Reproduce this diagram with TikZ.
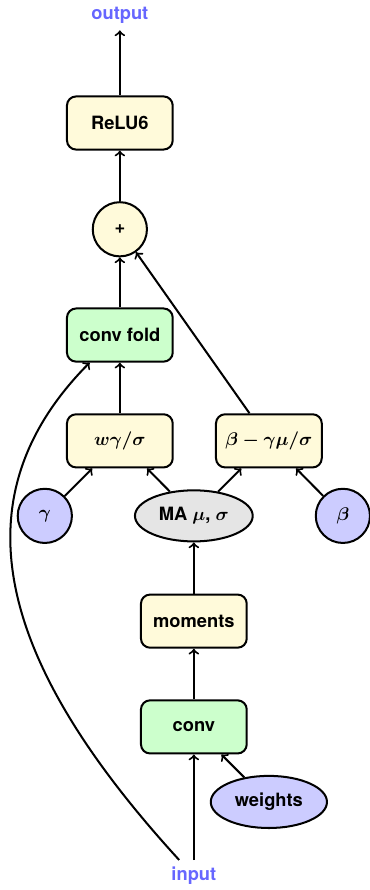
\documentclass[tikz,border=0pt]{standalone}
\usepackage{fontspec}
\setsansfont{TeX Gyre Heros}
\usepackage{bm}
\usetikzlibrary{arrows, shapes.geometric, positioning}

\definecolor{opyellow}{RGB}{255,250,218}
\definecolor{opgreen}{RGB}{204,255,204}
\definecolor{parblue}{RGB}{204,204,255}

\begin{document}
\begin{tikzpicture}[
	line width=1.1pt,
	block/.style = {draw, rectangle, rounded corners=5pt, fill=opyellow, minimum width=2.03cm, minimum height=1.02cm, align=center, font=\sffamily\bfseries\boldmath},
	convblock/.style = {block, fill=opgreen},
	addop/.style = {draw, circle, fill=opyellow, minimum size=1.04cm, font=\sffamily\bfseries},
	param/.style = {draw, circle, fill=parblue, minimum size=1.04cm, font=\boldmath},
	stat/.style = {draw, ellipse, fill=gray!20, minimum width=2.26cm, minimum height=0.98cm, font=\sffamily\bfseries\boldmath},
	io/.style = {text=blue!60, font=\sffamily\bfseries}
]
	\useasboundingbox (0,0) rectangle (7.10,-17.08);

	% main column
	\node[block] (relu) at (2.30,-2.36) {ReLU6};
	\node[io, yshift=2.07cm] (output) at (relu) {output};
	\node[addop, yshift=-2.04cm] (plus) at (relu) {+};
	\node[convblock, yshift=-2.03cm] (convfold) at (plus) {conv fold};
	\node[block, yshift=-2.03cm] (wgs) at (convfold) {$w\gamma/\sigma$};
	\node[block, xshift=2.86cm] (bgms) at (wgs) {$\beta-\gamma\mu/\sigma$};

	% statistics and parameters
	\node[stat, xshift=1.42cm, yshift=-1.44cm] (ma) at (wgs) {MA $\mu$, $\sigma$};
	\node[param, xshift=-1.44cm, yshift=-1.44cm] (gamma) at (wgs) {$\gamma$};
	\node[param, xshift=1.42cm, yshift=-1.44cm] (beta) at (bgms) {$\beta$};
	\node[block, yshift=-2.02cm] (moments) at (ma) {moments};
	\node[convblock, yshift=-2.03cm] (conv) at (moments) {conv};
	\node[stat, minimum width=2.23cm, minimum height=1.0cm, fill=parblue, xshift=1.44cm, yshift=-1.44cm] (weights) at (conv) {weights};
	\node[io, yshift=-2.86cm] (input) at (conv) {input};

	\draw[->] (relu) -- (output);
	\draw[->] (plus) -- (relu);
	\draw[->] (convfold) -- (plus);
	\draw[->] (wgs) -- (convfold);
	\draw[->] (bgms) -- (plus);
	\draw[->] (gamma) -- (wgs);
	\draw[->] (ma) -- (wgs);
	\draw[->] (ma) -- (bgms);
	\draw[->] (beta) -- (bgms);
	\draw[->] (moments) -- (ma);
	\draw[->] (conv) -- (moments);
	\draw[->] (weights) -- (conv);
	\draw[->] (input) -- (conv);
	\draw[->] ([xshift=-8pt]input.north) .. controls (0,-12.75) and (-0.9,-9.6) .. ([xshift=-0.58cm]convfold.south);
\end{tikzpicture}
\end{document}
